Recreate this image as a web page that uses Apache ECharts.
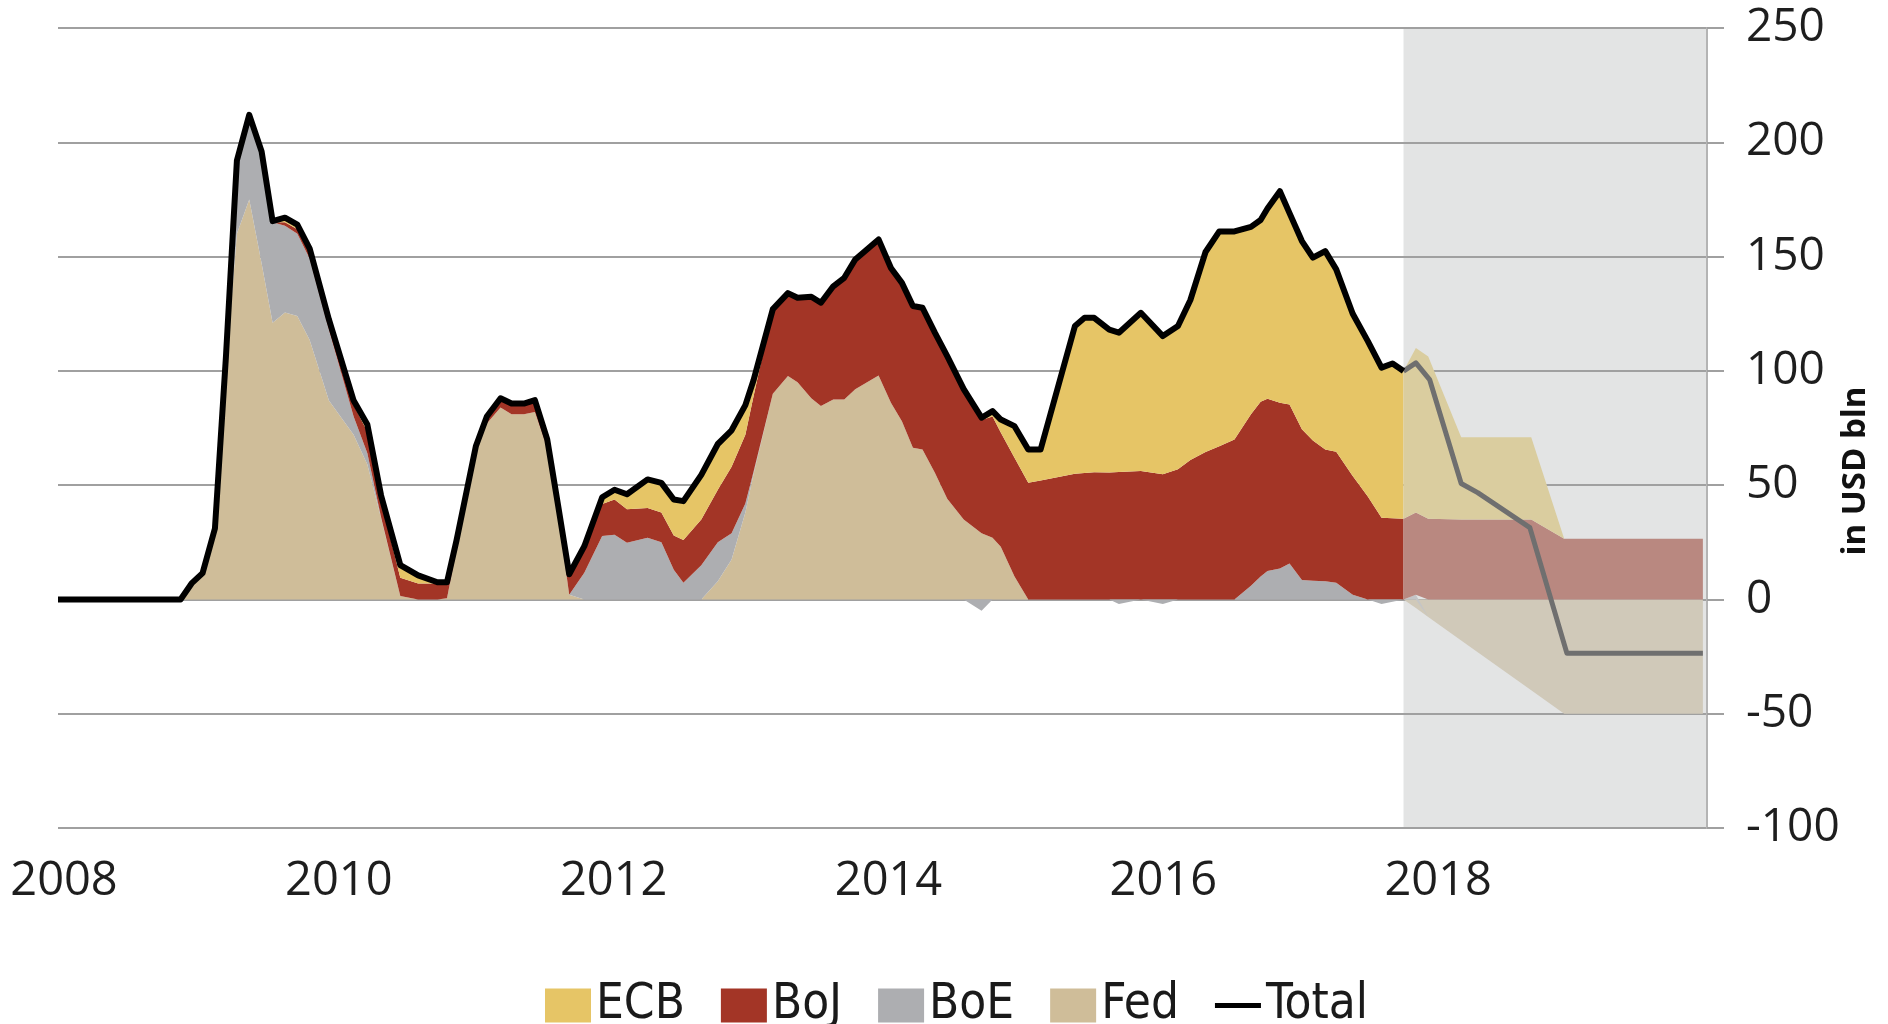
<!DOCTYPE html>
<html>
<head>
<meta charset="utf-8">
<script src="https://cdn.jsdelivr.net/npm/echarts@6/dist/echarts.min.js"></script>
<style>
  html, body { margin: 0; padding: 0; background: #fff; }
  #chart { width: 1888px; height: 1024px; }
</style>
</head>
<body>
<div id="chart"></div>
<script>
// history, decimal years
const years = [2008.00, 2008.89, 2008.97, 2009.05, 2009.14, 2009.22, 2009.30, 2009.39, 2009.48, 2009.56,
  2009.65, 2009.74, 2009.83, 2009.97, 2010.15, 2010.25, 2010.35, 2010.49, 2010.62, 2010.76,
  2010.83, 2010.90, 2011.04, 2011.12, 2011.22, 2011.30, 2011.39, 2011.47, 2011.56, 2011.64,
  2011.72, 2011.83, 2011.96, 2012.05, 2012.14, 2012.29, 2012.39, 2012.48, 2012.55, 2012.68,
  2012.80, 2012.90, 2013.00, 2013.06, 2013.20, 2013.31, 2013.38, 2013.48, 2013.55, 2013.64,
  2013.72, 2013.80, 2013.97, 2014.06, 2014.14, 2014.22, 2014.29, 2014.38, 2014.47, 2014.59,
  2014.72, 2014.80, 2014.86, 2014.96, 2015.06, 2015.15, 2015.40, 2015.47, 2015.54, 2015.65,
  2015.72, 2015.88, 2016.04, 2016.15, 2016.24, 2016.35, 2016.45, 2016.56, 2016.68, 2016.75,
  2016.80, 2016.89, 2016.96, 2017.05, 2017.13, 2017.22, 2017.30, 2017.42, 2017.53, 2017.63,
  2017.71, 2017.79];

const fed = [0, 0, 7, 11.5, 30, 100, 160, 175, 147, 121,
  125.5, 124, 113.5, 87, 72, 59, 35.5, 1.5, 0, 0,
  0.5, 22, 64, 77, 84, 81, 81, 82, 66, 37,
  2, 0, 0, 0, 0, 0, 0, 0, 0, 0,
  8, 17.5, 38, 55, 90, 97.7, 95, 88, 84.6, 87.5,
  87.5, 92, 98, 86, 78, 66.4, 65.6, 55.4, 44, 35,
  29, 27, 23, 10, 0, 0, 0, 0, 0, 0,
  0, 0, 0, 0, 0, 0, 0, 0, 0, 0,
  0, 0, 0, 0, 0, 0, 0, 0, 0, 0,
  0, 0];

const boe = [0, 0, 0, 0, 1, 6, 32, 37, 49, 44,
  38, 36, 35.5, 31, 8, 5, 0.5, 0, 0, 0,
  0, 0, 0, 0, 0, 0, 0, 0, 0, 0,
  0, 11.7, 27.7, 28.3, 24.8, 27, 25, 13, 7.3, 15,
  17, 11.5, 4, 1, 0, 0, 0, 0, 0, 0,
  0, 0, 0, 0, 0, 0, 0, 0, 0, 0,
  -5, 0, 0, 0, 0, 0, 0, 0, 0, 0,
  -2, 0, -2, 0, 0, 0, 0, 0, 6, 10,
  12.4, 13.5, 15.7, 8.5, 8.2, 8, 7.3, 2, 0, -2,
  -1, 0];

const boj = [0, 0, 0, 0, 0, 0, 0, 0, 0, 0,
  1.5, 2, 2.5, 2.5, 5, 9.5, 7, 8, 7, 7,
  7, 4, 3, 3, 4, 4.7, 4.7, 5.2, 4, 3.8,
  9, 11.6, 14, 15.4, 14.6, 13, 13, 15, 18.7, 20,
  23, 29, 30, 33, 37, 36.3, 37, 44.4, 45.2, 49.5,
  53.2, 56.7, 59.5, 59, 60.5, 62, 62, 61.3, 62.4, 57,
  49.5, 53, 50, 52, 51, 52, 55, 55.3, 55.6, 55.5,
  55.8, 56.2, 54.8, 57, 61, 64.5, 67, 70, 75, 76.5,
  75.4, 72.5, 69.6, 65.9, 61.3, 57.6, 57.3, 52, 45, 35.7,
  35.5, 35.3];

const ecb = [0, 0, 0, 0, 0, 0, 0, 0, 0, 0.5,
  2, 2, 2, 2, 2, 3, 2.5, 5.5, 3.5, 0.5,
  0, 0, 0, 0, 0, 0, 0, 0, 0, 0,
  0, 0, 3, 4.3, 6.6, 12.5, 13, 15.7, 17, 19.5,
  20, 16, 13, 7, 0, 0, 0, 0, 0, 0,
  0, 0, 0, 0, 0, 0, 0, 0, 0, 0,
  1, 2.4, 5.7, 13.8, 14.6, 13.6, 64.6, 67.9, 67.6, 62.5,
  60.9, 69.2, 60.4, 62.6, 70, 87.5, 94, 91, 82, 79.5,
  83.2, 92.6, 83.7, 82.4, 80, 86.8, 79.8, 71, 68, 65.7,
  67.7, 64.6];

const total = [0, 0, 7, 11.5, 31, 106, 192, 212, 196, 165.5,
  167, 164, 153.5, 122.5, 87, 76.5, 45.5, 15, 10.5, 7.5,
  7.5, 26, 67, 80, 88, 85.7, 85.7, 87.2, 70, 40.8,
  11, 23.3, 44.7, 48, 46, 52.5, 51, 43.7, 43, 54.5,
  68, 74, 85, 96, 127, 134, 132, 132.4, 129.8, 137,
  140.7, 148.7, 157.5, 145, 138.5, 128.4, 127.6, 116.7, 106.4, 92,
  79.5, 82.4, 78.7, 75.8, 65.6, 65.6, 119.6, 123.2, 123.2, 118,
  116.7, 125.4, 115.2, 119.6, 131, 152, 161, 161, 163, 166,
  171, 178.6, 169, 156.8, 149.5, 152.4, 144.4, 125, 113, 101.4,
  103.2, 99.9];

// forecast part
const fcYears = [2017.79, 2017.88, 2017.97, 2018.21, 2018.72, 2018.96, 2019.97];
const fedFc = [0, -3.8, -7.7, -18, -39.7, -50, -50];
const boeFc = [0, 2, 0, 0, 0, 0, 0];
const bojFc = [35.3, 36, 35.3, 35, 35, 26.5, 26.5];
const ecbFc = [64.6, 72, 71, 36, 36, 0, 0];

const totalFcYears = [2017.79, 2017.88, 2017.98, 2018.21, 2018.33, 2018.71, 2018.98, 2019.97];
const totalFc = [99.9, 103.5, 96.2, 50.7, 46.7, 31.4, -23.6, -23.6];

const forecastStart = 2017.79;

const colors = {
    ECB: '#e6c566',
    BoJ: '#a33526',
    BoE: '#adaeb1',
    Fed: '#cfbd99'
};
const fcColors = {
    ECB: '#dacd9f',
    BoJ: '#b98880',
    BoE: '#c4c5c7',
    Fed: '#d0c9b9'
};

// decimal year -> timestamp (time axis so that stacking runs on y)
function yt(y) {
    const yr = Math.floor(y + 1e-9);
    const s = Date.UTC(yr, 0, 1), e = Date.UTC(yr + 1, 0, 1);
    return s + (y - yr) * (e - s);
}

function pairs(xs, ys) {
    return xs.map(function (x, i) { return [yt(x), ys[i]]; });
}

function area(name, xs, ys, color, stack) {
    return {
        name: name,
        type: 'line',
        stack: stack,
        stackStrategy: 'samesign',
        data: pairs(xs, ys),
        symbol: 'none',
        silent: true,
        lineStyle: { width: 0 },
        itemStyle: { color: color },
        areaStyle: { color: color, opacity: 1 },
        z: 2
    };
}

// BoE dips below zero are drawn on their own from the zero line
const boePos = boe.map(function (v) { return Math.max(v, 0); });
const boeNeg = boe.map(function (v) { return Math.min(v, 0); });

const chart = echarts.init(document.getElementById('chart'));

const option = {
    animation: false,
    backgroundColor: '#fff',
    grid: { left: 58, right: 181, top: 28, bottom: 196 },
    xAxis: [{
        // data axis
        type: 'time',
        min: yt(2008),
        max: yt(2020),
        axisLine: { show: false },
        axisTick: { show: false },
        splitLine: { show: false },
        axisLabel: { show: false }
    }, {
        // year labels
        type: 'value',
        min: 2008,
        max: 2020,
        interval: 2,
        position: 'bottom',
        axisLine: { show: false },
        axisTick: { show: false },
        splitLine: { show: false },
        axisLabel: {
            fontFamily: 'Open Sans',
            fontSize: 47,
            color: '#1e1e1e',
            margin: 30,
            padding: [0, 0, 0, 12],
            formatter: function (v) { return v >= 2020 ? '' : String(v); }
        }
    }],
    yAxis: {
        type: 'value',
        position: 'right',
        min: -100,
        max: 250,
        interval: 50,
        axisLine: { show: true, lineStyle: { color: '#b4b4b4', width: 2 } },
        axisTick: { show: true, length: 17, lineStyle: { color: '#a0a0a0', width: 2 } },
        splitLine: { show: true, lineStyle: { color: '#a0a0a0', width: 2 } },
        axisLabel: {
            fontFamily: 'Open Sans',
            fontSize: 46,
            color: '#1e1e1e',
            margin: 39
        }
    },
    legend: {
        top: 976,
        left: 540,
        itemWidth: 46,
        itemHeight: 34,
        itemGap: 36,
        textStyle: {
            fontFamily: '"Liberation Sans Narrow", "DejaVu Sans Condensed", sans-serif',
            fontSize: 49,
            color: '#1a1a1a'
        },
        data: [
            { name: 'ECB', icon: 'rect' },
            { name: 'BoJ', icon: 'rect' },
            { name: 'BoE', icon: 'rect' },
            { name: 'Fed', icon: 'rect' },
            { name: 'Total', icon: 'path://M0,0H48V5H0Z' }
        ]
    },
    graphic: [{
        type: 'text',
        x: 1856,
        y: 471,
        rotation: Math.PI / 2,
        style: {
            text: 'in USD bln',
            font: 'bold 33px "Open Sans"',
            fill: '#111',
            align: 'center',
            verticalAlign: 'middle'
        }
    }],
    series: [
        area('Fed', years, fed, colors.Fed, 'hist'),
        area('BoE', years, boePos, colors.BoE, 'hist'),
        area('BoJ', years, boj, colors.BoJ, 'hist'),
        area('ECB', years, ecb, colors.ECB, 'hist'),
        area('BoE', years, boeNeg, colors.BoE, 'neg'),
        area('Fed forecast', fcYears, fedFc, fcColors.Fed, 'fc'),
        area('BoE forecast', fcYears, boeFc, fcColors.BoE, 'fc'),
        area('BoJ forecast', fcYears, bojFc, fcColors.BoJ, 'fc'),
        area('ECB forecast', fcYears, ecbFc, fcColors.ECB, 'fc'),
        {
            name: 'Total forecast',
            type: 'line',
            data: pairs(totalFcYears, totalFc),
            symbol: 'none',
            silent: true,
            lineStyle: { color: '#6f6f6f', width: 5, join: 'round' },
            itemStyle: { color: '#6f6f6f' },
            z: 4,
            // 预测区间背景
            markArea: {
                silent: true,
                z: -1,
                itemStyle: { color: '#e3e4e4' },
                data: [[{ xAxis: yt(forecastStart), yAxis: 250 }, { xAxis: yt(2020), yAxis: -100 }]]
            }
        },
        {
            name: 'Total',
            type: 'line',
            data: pairs(years, total),
            symbol: 'none',
            silent: true,
            lineStyle: { color: '#000', width: 6, join: 'round' },
            itemStyle: { color: '#000' },
            z: 5
        }
    ]
};

chart.setOption(option);
</script>
</body>
</html>
